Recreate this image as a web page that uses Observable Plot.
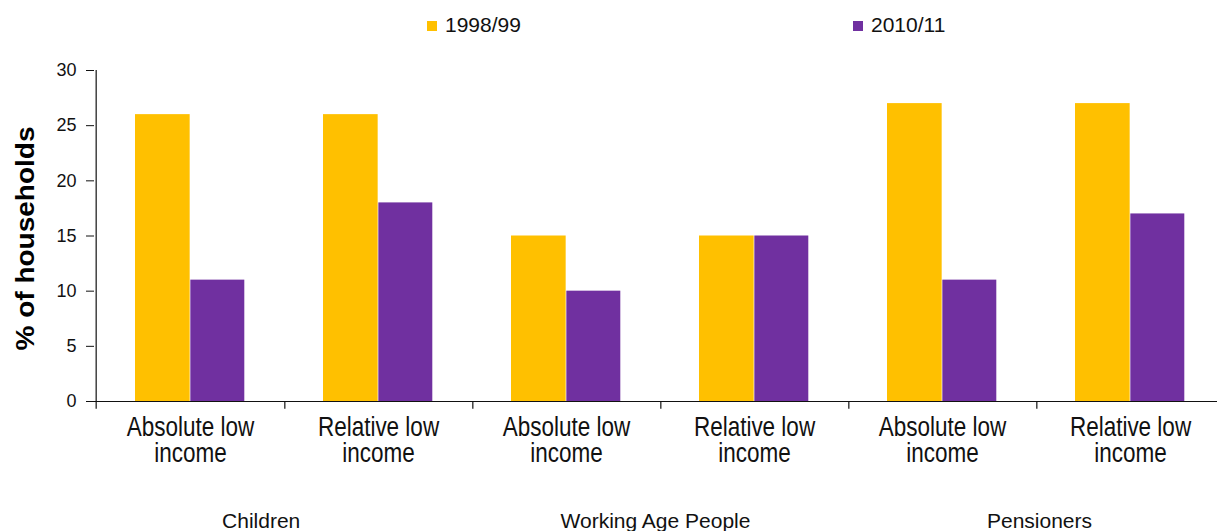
<!DOCTYPE html>
<html>
<head>
<meta charset="utf-8">
<script src="https://cdn.jsdelivr.net/npm/d3@7"></script>
<script src="https://cdn.jsdelivr.net/npm/@observablehq/plot@0.6"></script>
<style>
  html, body { margin: 0; padding: 0; background: #fff; overflow: hidden; }
  #wrap { position: relative; width: 1217px; height: 531px; overflow: hidden; font-family: "Liberation Sans", Arial, sans-serif; }
  #legend { position: absolute; left: 0; top: 0; width: 1217px; height: 50px; z-index: 2; }
  .lg { position: absolute; top: 13px; font-size: 21px; color: #111; line-height: 24px; white-space: nowrap; }
  .sw { display: inline-block; width: 10px; height: 10px; margin-right: 8px; vertical-align: 1px; }
  #chart { position: absolute; left: 0; top: 0; width: 1226px; }
</style>
</head>
<body>
<div id="wrap">
  <div id="legend"></div>
  <div id="chart"></div>
</div>
<script>
// ---- data ----
const groups = ["Children", "Working Age People", "Pensioners"];
const measures = ["Absolute low\nincome", "Relative low\nincome"];
const series = ["1998/99", "2010/11"];
const values1998 = [26, 26, 15, 15, 27, 27];
const values2010 = [11, 18, 10, 15, 11, 17];
const yTicks = [0, 5, 10, 15, 20, 25, 30];
const yLabel = "% of households";
const colors = ["#FFC000", "#7030A0"];

// ---- rows ----
const cats = groups.flatMap(g => measures.map(m => g + "|" + m));
const rows = cats.map((c, i) => ({
  cat: c,
  label: measures[i % 2],
  group: groups[Math.floor(i / 2)],
  v1998: values1998[i],
  v2010: values2010[i]
}));

// ---- legend ----
const legend = document.getElementById("legend");
const legendLeft = [427, 853];
series.forEach((s, i) => {
  const d = document.createElement("div");
  d.className = "lg";
  d.style.left = legendLeft[i] + "px";
  d.innerHTML = `<span class="sw" style="background:${colors[i]}"></span>${s}`;
  legend.appendChild(d);
});

// ---- chart ----
const W = 1226, mL = 94;
const bw = (W - mL) / cats.length;
const groupDx = [70.7, 89, 97];
const catSize = 22.5, catStretch = 1.25;

const plot = Plot.plot({
  width: W,
  height: 531,
  marginLeft: mL,
  marginRight: 0,
  marginTop: 70,
  marginBottom: 130,
  style: { fontFamily: '"Liberation Sans", Arial, sans-serif', color: "#111", background: "transparent", overflow: "visible", maxWidth: "none" },
  x: { type: "band", domain: cats, padding: 0, axis: null },
  y: { domain: [0, 30], axis: null },
  marks: [
    Plot.barY(rows, { x: "cat", y: "v1998", fill: colors[0], insetLeft: 39, insetRight: bw / 2 }),
    Plot.barY(rows, { x: "cat", y: "v2010", fill: colors[1], insetLeft: bw / 2, insetRight: 39.7 }),
    Plot.ruleY([0], { stroke: "#111", strokeWidth: 1.2 }),
    Plot.ruleX([cats[0]], { x: d => d, y1: () => 0, y2: () => 30, dx: -bw / 2, stroke: "#111", strokeWidth: 1.2 }),
    Plot.ruleX(cats, { x: d => d, y1: () => 0, y2: () => -0.7, dx: bw / 2, stroke: "#111", strokeWidth: 1.2 }),
    Plot.ruleX([cats[0]], { x: d => d, y1: () => 0, y2: () => -0.7, dx: -bw / 2, stroke: "#111", strokeWidth: 1.2 }),
    Plot.axisY({ ticks: yTicks, tickSize: 8, tickPadding: 10, fontSize: 18, label: null, stroke: "#111", tickFormat: d => String(d) }),
    Plot.text(rows, {
      ariaDescription: "catlabels",
      x: "cat", y: () => 0, text: "label", lineAnchor: "top", rotate: 360,
      fontSize: catSize, lineHeight: 26.5 / (catSize * catStretch),
      dy: 435 - 401 - 0.71 * 26.5, fill: "#111"
    }),
    ...groups.map((g, gi) => Plot.text([g], {
      x: () => cats[gi * 2], y: () => 0, text: d => d, lineAnchor: "bottom",
      fontSize: 21, dy: 126, dx: groupDx[gi], fill: "#111"
    })),
    Plot.text([yLabel], {
      ariaDescription: "ylabel",
      frameAnchor: "left", text: d => d, rotate: -90, lineAnchor: "middle", textAnchor: "middle",
      fontSize: 25, fontWeight: "bold", dx: -69, dy: 2.5, fill: "#000"
    })
  ]
});
// stretch texts that are drawn taller in the reference (about their own anchor)
plot.querySelectorAll('g[aria-description="catlabels"] text').forEach(t => {
  t.setAttribute("transform", (t.getAttribute("transform") || "") + ` scale(1,${catStretch})`);
});
plot.querySelectorAll('g[aria-description="ylabel"] text').forEach(t => {
  t.setAttribute("transform", (t.getAttribute("transform") || "") + " scale(1.12,1)");
});
document.getElementById("chart").appendChild(plot);
</script>
</body>
</html>
